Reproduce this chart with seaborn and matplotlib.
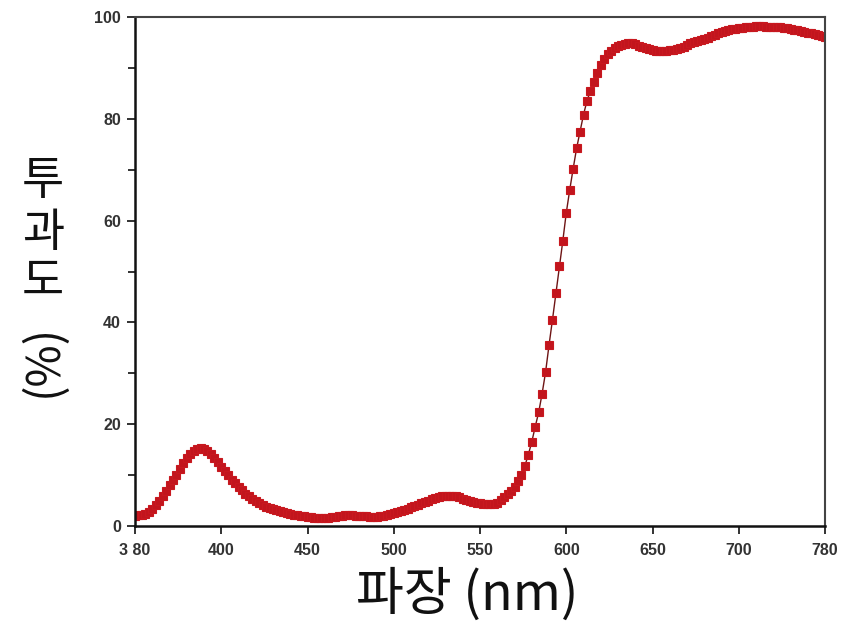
import numpy as np
import pandas as pd
import matplotlib
matplotlib.use("Agg")
import matplotlib.pyplot as plt
import seaborn as sns

# x positions on the drawn axis (nm, 2 nm steps); tick labels as printed in the reference
wavelength = list(range(350, 752, 2))
transmittance = [
    2.0, 2.1, 2.2, 2.4, 2.8, 3.3, 4.1, 4.9, 5.9, 6.9,          # 350-368
    8.0, 9.0, 10.1, 11.2, 12.3, 13.3, 14.1, 14.8, 15.2, 15.3,  # 370-388
    15.1, 14.8, 14.1, 13.4, 12.6, 11.6, 10.8, 10.0, 9.1, 8.4,  # 390-408
    7.7, 7.0, 6.3, 5.8, 5.3, 4.9, 4.5, 4.1, 3.8, 3.5,          # 410-428
    3.3, 3.1, 2.9, 2.7, 2.5, 2.4, 2.2, 2.1, 2.0, 1.9,          # 430-448
    1.8, 1.7, 1.6, 1.5, 1.5, 1.5, 1.6, 1.7, 1.8, 1.9,          # 450-468
    2.0, 2.1, 2.1, 2.1, 2.0, 2.0, 1.9, 1.9, 1.8, 1.8,          # 470-488
    1.8, 1.9, 2.0, 2.1, 2.3, 2.5, 2.7, 2.9, 3.1, 3.4,          # 490-508
    3.7, 3.9, 4.2, 4.5, 4.8, 5.0, 5.3, 5.5, 5.7, 5.8,          # 510-528
    5.9, 5.9, 5.9, 5.8, 5.6, 5.4, 5.2, 5.0, 4.8, 4.6,          # 530-548
    4.5, 4.4, 4.3, 4.3, 4.3, 4.6, 5.1, 5.6, 6.2, 6.8,          # 550-568
    7.7, 8.8, 10.1, 11.8, 14.0, 16.5, 19.5, 22.3, 26.0, 30.2,  # 570-588
    35.5, 40.5, 45.7, 51.0, 56.0, 61.5, 66.0, 70.2, 74.2, 77.5,  # 590-608
    80.8, 83.5, 85.5, 87.3, 88.9, 90.5, 91.7, 92.7, 93.3, 93.9,  # 610-628
    94.3, 94.5, 94.7, 94.8, 94.8, 94.6, 94.4, 94.2, 94.0, 93.8,  # 630-648
    93.6, 93.4, 93.3, 93.3, 93.4, 93.5, 93.6, 93.8, 94.0, 94.2,  # 650-668
    94.5, 94.8, 95.0, 95.2, 95.4, 95.7, 95.9, 96.2, 96.5, 96.8,  # 670-688
    97.0, 97.2, 97.4, 97.6, 97.7, 97.8, 97.9, 98.0, 98.1, 98.1,  # 690-708
    98.2, 98.2, 98.2, 98.1, 98.1, 98.1, 98.0, 98.0, 97.9, 97.8,  # 710-728
    97.6, 97.5, 97.4, 97.2, 97.1, 96.9, 96.8, 96.6, 96.4, 96.2,  # 730-748
    96.0,                                                       # 750
]
xtick_pos = [350, 400, 450, 500, 550, 600, 650, 700, 750]
xtick_labels = ["3 80", "400", "450", "500", "550", "600", "650", "700", "780"]
ytick_major = [0, 20, 40, 60, 80, 100]
ytick_minor = [10, 30, 50, 70, 90]
xlabel = "파장 (nm)"
ylabel_chars = ["투", "과", "도"]
ylabel_unit = "(%)"

sns.set_theme(style="ticks")
plt.rcParams["font.family"] = ["Liberation Sans", "DejaVu Sans"]

W, H = 843, 629
fig = plt.figure(figsize=(W / 100, H / 100), dpi=100)
L, R, T, B = 135, 825, 17, 526
ax = fig.add_axes([L / W, 1 - B / H, (R - L) / W, (B - T) / H])

df = pd.DataFrame({"wl": wavelength, "t": transmittance})
sns.lineplot(data=df, x="wl", y="t", ax=ax, color="#6e1414", linewidth=1.0,
             marker="s", markersize=5.4, markerfacecolor="#c2151d",
             markeredgecolor="#c8181f", markeredgewidth=0.8)

ax.set_xlim(350, 750)
ax.set_ylim(0, 100)
ax.set_xticks(xtick_pos)
ax.set_xticklabels(xtick_labels)
ax.set_yticks(ytick_major)
ax.set_yticks(ytick_minor, minor=True)
ax.set_xlabel("")
ax.set_ylabel("")

for s in ["left", "bottom"]:
    ax.spines[s].set_color("#111111")
    ax.spines[s].set_linewidth(1.8)
for s in ["top", "right"]:
    ax.spines[s].set_color("#444444")
    ax.spines[s].set_linewidth(1.5)
    ax.spines[s].set_visible(True)

ax.tick_params(axis="both", which="major", direction="out", length=6, width=1.3,
               color="#222222", labelsize=11.5, labelcolor="#333333")
ax.tick_params(axis="x", which="major", pad=6)
ax.tick_params(axis="y", which="major", pad=4)
ax.tick_params(axis="y", which="minor", direction="out", length=5, width=1.3,
               color="#222222")
ax.tick_params(top=False, right=False)
for lab in ax.get_xticklabels() + ax.get_yticklabels():
    lab.set_fontweight("bold")

kfont = ["Noto Sans CJK KR", "DejaVu Sans"]
fig.text(467 / W, 1 - 595 / H, xlabel, ha="center", va="center",
         fontsize=37.5, family=kfont, color="#111111")
for ch, py in zip(ylabel_chars, [181, 233, 282]):
    fig.text(43 / W, 1 - py / H, ch, ha="center", va="center",
             fontsize=33, family=kfont, color="#111111")
fig.text(43 / W, 1 - 360 / H, ylabel_unit, ha="center", va="center",
         fontsize=33, family=kfont, color="#111111", rotation=90)

fig.savefig("out.png", dpi=100, facecolor="white")
